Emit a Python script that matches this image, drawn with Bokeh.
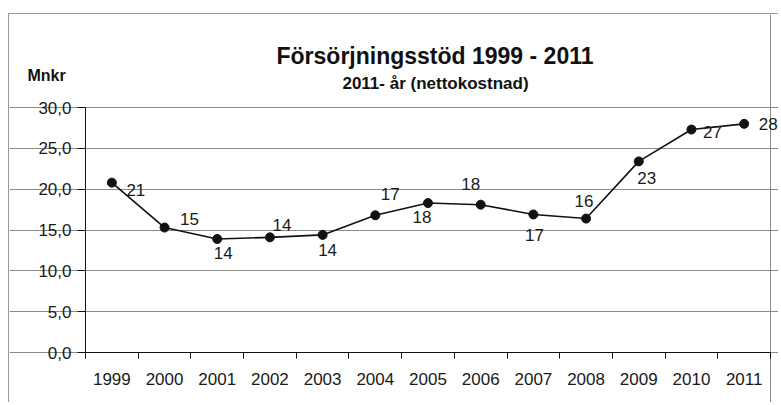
from bokeh.plotting import figure
from bokeh.models import FixedTicker, Label, ColumnDataSource, Range1d
from bokeh.core.properties import value
from bokeh.embed import file_html
from bokeh.resources import INLINE

# ---- data ----
years = ["1999", "2000", "2001", "2002", "2003", "2004", "2005",
         "2006", "2007", "2008", "2009", "2010", "2011"]
values = [20.8, 15.3, 13.9, 14.1, 14.4, 16.8, 18.3, 18.1, 16.9, 16.4, 23.4, 27.3, 28.0]
y_ticks = [0, 5, 10, 15, 20, 25, 30]
y_tick_labels = ["0,0", "5,0", "10,0", "15,0", "20,0", "25,0", "30,0"]
title_text = "Försörjningsstöd 1999 - 2011"
subtitle_text = "2011- år (nettokostnad)"
unit_text = "Mnkr"

# label placement (pixel offsets from each point: right, down)
label_dx = [24, 25, 6, 12, 5, 15, -6, -10, 1, -2, 8, 21, 24]
label_dy = [7, -9, 14, -12, 15, -21, 14, -21, 21, -18, 17, 2, 0]

FONT = "Liberation Sans"
n = len(years)
y_max = 30
xs = [i + 0.5 for i in range(n)]
src = ColumnDataSource(dict(
    x=xs, y=values,
    lab=[f"{v:.0f}" for v in values],
    dx=label_dx, dy=label_dy,
))

# canvas geometry (pixels)
W, H = 770, 389
AX_X, AX_Y = 76, 338            # canvas position of data origin
PLOT_W, PLOT_H = 685, 245       # plot area size
kx = PLOT_W / n
ky = PLOT_H / y_max


def cx(px):  # canvas x -> data x
    return (px - AX_X) / kx


def cy(py):  # canvas y -> data y
    return (AX_Y - py) / ky


p = figure(width=W, height=H, output_backend="svg", toolbar_location=None,
           x_range=Range1d(cx(0), cx(W)), y_range=Range1d(cy(H), cy(0)),
           min_border_left=0, min_border_right=0, min_border_top=0,
           min_border_bottom=0)
p.margin = (13, 0, 0, 8)
p.styles = {"border-top": "1px solid #9a9a9a", "border-left": "1px solid #9a9a9a"}
p.background_fill_color = "white"
p.border_fill_color = "white"
p.outline_line_color = None

GRID = "#8a8a8a"
# horizontal grid (incl. top border at 30)
p.ygrid.grid_line_color = GRID
p.ygrid.grid_line_width = 1
p.ygrid.ticker = FixedTicker(ticks=y_ticks)
p.ygrid.bounds = (0, n)
# right border of plot area
p.xgrid.ticker = FixedTicker(ticks=[n])
p.xgrid.grid_line_color = GRID
p.xgrid.bounds = (0, y_max)

# y axis (drawn at x = 0 inside the frame)
p.yaxis.fixed_location = 0
p.yaxis.bounds = (0, y_max)
p.yaxis.ticker = FixedTicker(ticks=y_ticks)
p.yaxis.major_label_overrides = {t: l for t, l in zip(y_ticks, y_tick_labels)}
p.yaxis.major_tick_in = 0
p.yaxis.major_tick_out = 8
p.yaxis.minor_tick_line_color = None
p.yaxis.axis_line_color = "#111111"
p.yaxis.major_tick_line_color = "#111111"
p.yaxis.major_label_text_font = FONT
p.yaxis.major_label_text_font_size = "17px"
p.yaxis.major_label_text_color = "#1a1a1a"
p.yaxis.major_label_standoff = 6

# x axis (drawn at y = 0 inside the frame)
p.xaxis.fixed_location = 0
p.xaxis.bounds = (0, n)
p.xaxis.ticker = FixedTicker(ticks=xs, minor_ticks=list(range(n + 1)))
p.xaxis.major_label_overrides = {x: y for x, y in zip(xs, years)}
p.xaxis.major_tick_line_color = None
p.xaxis.major_tick_in = 0
p.xaxis.major_tick_out = 0
p.xaxis.minor_tick_in = 0
p.xaxis.minor_tick_out = 6
p.xaxis.minor_tick_line_color = "#111111"
p.xaxis.axis_line_color = "#111111"
p.xaxis.major_label_text_font = FONT
p.xaxis.major_label_text_font_size = "17px"
p.xaxis.major_label_text_color = "#1a1a1a"
p.xaxis.major_label_standoff = 14

# series
p.line("x", "y", source=src, line_color="#111111", line_width=1.6)
p.scatter("x", "y", source=src, size=9, fill_color="#111111", line_color="#111111")
p.text("x", "y", text="lab", source=src, x_offset="dx", y_offset="dy",
       text_font=value(FONT), text_font_size="17px", text_color="#1a1a1a",
       text_align="center", text_baseline="middle")

# titles
p.add_layout(Label(x=cx(425.5), y=cy(41.5), text=title_text, text_font=FONT,
                   text_font_size="23px", text_font_style="bold",
                   text_color="#111111", text_align="center", text_baseline="middle"))
p.add_layout(Label(x=cx(426), y=cy(68.5), text=subtitle_text, text_font=FONT,
                   text_font_size="17px", text_font_style="bold",
                   text_color="#111111", text_align="center", text_baseline="middle"))
p.add_layout(Label(x=cx(37), y=cy(61), text=unit_text, text_font=FONT,
                   text_font_size="16px", text_font_style="bold",
                   text_color="#111111", text_align="center", text_baseline="middle"))

open("out.html", "w").write(file_html(p, INLINE))
